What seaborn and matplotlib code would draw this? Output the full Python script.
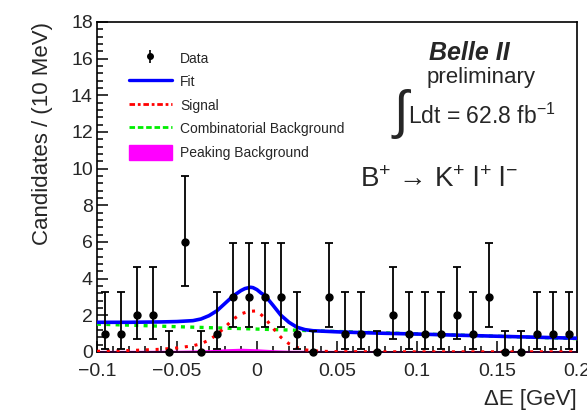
import numpy as np
import pandas as pd
import seaborn as sns
import matplotlib.pyplot as plt
from matplotlib.lines import Line2D
from matplotlib.patches import Patch
from matplotlib.ticker import MultipleLocator

# binned data: 30 bins of 10 MeV from -0.1 to 0.2 GeV
bin_centers = np.arange(30) * 0.01 - 0.095
counts = [1, 1, 2, 2, 0, 6, 0, 1, 3, 3, 3, 3, 1, 0, 3, 1, 1, 0, 2, 1, 1, 1, 2, 1, 3, 0, 0, 1, 1, 1]

# poisson intervals indexed by count
err_lo = [0.0, 0.827, 1.292, 1.633, 1.914, 2.159, 2.379]
err_hi = [1.147, 2.299, 2.637, 2.918, 3.162, 3.382, 3.583]

# fit curves
fit_x = [-0.1, -0.09, -0.08, -0.07, -0.06, -0.05, -0.04, -0.035, -0.03, -0.025, -0.02, -0.015,
         -0.01, -0.0075, -0.004, -0.0025, 0.0, 0.0025, 0.005, 0.01, 0.015, 0.02, 0.025, 0.03,
         0.035, 0.04, 0.05, 0.06, 0.08, 0.1, 0.12, 0.15, 0.2]
fit_y = [1.62, 1.62, 1.62, 1.63, 1.64, 1.66, 1.71, 1.80, 1.98, 2.25, 2.65, 3.05,
         3.35, 3.46, 3.53, 3.51, 3.40, 3.22, 3.08, 2.55, 2.00, 1.62, 1.35, 1.22,
         1.16, 1.14, 1.10, 1.07, 1.02, 0.98, 0.93, 0.86, 0.75]

sig_x = [-0.1, -0.08, -0.06, -0.05, -0.04, -0.035, -0.03, -0.025, -0.02, -0.015, -0.01, -0.005,
         0.0, 0.005, 0.01, 0.015, 0.02, 0.025, 0.03, 0.035, 0.04, 0.05, 0.1, 0.2]
sig_y = [0.04, 0.08, 0.15, 0.22, 0.34, 0.45, 0.65, 0.95, 1.35, 1.78, 2.08, 2.22,
         2.24, 1.85, 1.30, 0.80, 0.45, 0.25, 0.12, 0.07, 0.04, 0.02, 0.01, 0.01]

comb_x = [-0.1, -0.05, 0.0, 0.05, 0.1, 0.15, 0.2]
comb_y = [1.52, 1.38, 1.25, 1.12, 0.99, 0.86, 0.73]

peak_x = [-0.1, -0.05, -0.03, -0.02, -0.01, 0.0, 0.01, 0.02, 0.05, 0.1, 0.2]
peak_y = [0.03, 0.04, 0.07, 0.12, 0.15, 0.12, 0.07, 0.04, 0.03, 0.02, 0.02]

sns.set_style("white")
plt.rcParams["font.family"] = ["Liberation Sans", "DejaVu Sans"]
plt.rcParams["mathtext.fontset"] = "custom"
plt.rcParams["mathtext.rm"] = "Liberation Sans"
plt.rcParams["mathtext.it"] = "Liberation Sans:italic"
plt.rcParams["mathtext.bf"] = "Liberation Sans:bold"

fig = plt.figure(figsize=(5.87, 4.18), dpi=100)
ax = fig.add_axes([0.1652, 0.1579, 0.8177, 0.7895])

ax.fill_between(peak_x, 0, peak_y, color="#ff00ff", lw=1.5, zorder=2)
sns.lineplot(x=comb_x, y=comb_y, ax=ax, color="#00ee00", lw=2.4,
             linestyle=(0, (1.2, 1.6)), estimator=None, sort=False, zorder=3)
sns.lineplot(x=sig_x, y=sig_y, ax=ax, color="#ff0000", lw=2.2,
             linestyle=(0, (1, 2.2)), estimator=None, sort=False, zorder=3)
sns.lineplot(x=fit_x, y=fit_y, ax=ax, color="#0000ff", lw=2.6,
             estimator=None, sort=False, zorder=4)

lo = [err_lo[c] for c in counts]
hi = [err_hi[c] for c in counts]
ax.errorbar(bin_centers, counts, yerr=[lo, hi], fmt="o", color="black", ms=5,
            elinewidth=1.3, capsize=2.8, capthick=1.3, zorder=5, clip_on=False)

ax.set_xlim(-0.1, 0.2)
ax.set_ylim(0, 18)
ax.xaxis.set_major_locator(MultipleLocator(0.05))
ax.xaxis.set_minor_locator(MultipleLocator(0.01))
ax.yaxis.set_major_locator(MultipleLocator(2))
ax.yaxis.set_minor_locator(MultipleLocator(0.4))
ax.set_xticks([-0.1, -0.05, 0, 0.05, 0.1, 0.15, 0.2])
ax.set_xticklabels(["\u22120.1", "\u22120.05", "0", "0.05", "0.1", "0.15", "0.2"])
ax.tick_params(which="both", direction="in", top=False, right=False, bottom=True, left=True,
               labelsize=14, width=1.1, color="black")
ax.tick_params(axis="y", which="major", length=8, pad=3)
ax.tick_params(axis="y", which="minor", length=4)
ax.tick_params(axis="x", which="major", length=8, pad=8)
ax.tick_params(axis="x", which="minor", length=4)
for s in ax.spines.values():
    s.set_linewidth(1.2)
    s.set_color("black")

ax.set_ylabel("Candidates / (10 MeV)", fontsize=16, loc="top")
ax.yaxis.set_label_coords(-0.092, 1.0)
ax.set_xlabel("\u0394E [GeV]", fontsize=16, loc="right")
ax.xaxis.set_label_coords(1.0, -0.112)

# legend
data_handle = ax.errorbar([], [], yerr=[], fmt="o", color="black", ms=4, elinewidth=1.2, capsize=0)
handles = [
    data_handle,
    Line2D([], [], color="#0000ff", lw=2.4),
    Line2D([], [], color="#ff0000", lw=2.0, linestyle=(0, (2, 1, 1, 1))),
    Line2D([], [], color="#00ee00", lw=2.0, linestyle=(0, (2, 1))),
    Patch(facecolor="#ff00ff", edgecolor="#ff00ff"),
]
labels = ["Data", "Fit", "Signal", "Combinatorial Background", "Peaking Background"]
ax.legend(handles, labels, loc="upper left", bbox_to_anchor=(0.066, 0.914), frameon=False,
          fontsize=10, handlelength=3.1, handleheight=1.3, handletextpad=0.6,
          labelspacing=0.6, borderpad=0, borderaxespad=0)

# annotations
ax.text(0.775, 0.905, "Belle II", transform=ax.transAxes, fontsize=18, fontweight="bold",
        fontstyle="italic", ha="center", va="center")
ax.text(0.80, 0.832, "preliminary", transform=ax.transAxes, fontsize=16, ha="center", va="center")
ax.text(0.617, 0.722, "\u222b", transform=ax.transAxes, fontsize=38, ha="left", va="center",
        family=["Liberation Sans", "DejaVu Sans"])
ax.text(0.647, 0.715, r"Ldt = 62.8 fb$^{\mathregular{-1}}$", transform=ax.transAxes, fontsize=16.5,
        ha="left", va="center")
ax.text(0.713, 0.52, "B$^{+}$ \u2192 K$^{+}$ l$^{+}$ l$^{-}$",
        transform=ax.transAxes, fontsize=20, ha="center", va="center")

fig.savefig("out.png", dpi=100)
